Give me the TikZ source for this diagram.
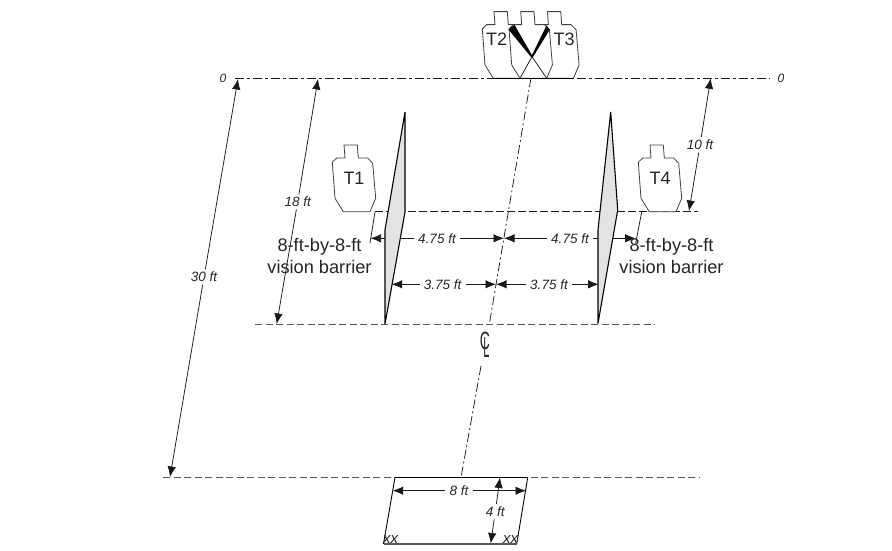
\documentclass[tikz,border=0pt]{standalone}
\usepackage{fontspec}
\setmainfont{Liberation Sans}
\usetikzlibrary{arrows.meta}
\tikzset{
  ln/.style={line width=0.75pt,draw=black!90},
  axisline/.style={ln,dash pattern=on 9pt off 3pt on 3pt off 3pt},
  seatline/.style={ln,dash pattern=on 8pt off 3pt},
  lowline/.style={ln,draw=black!65,dash pattern=on 7pt off 3.5pt},
  centerline/.style={ln,dash pattern=on 9pt off 3pt on 2pt off 3pt},
  dimarrow/.style={ln,-{Latex[length=10.5pt,width=8.5pt]}},
  dimlabel/.style={font=\fontsize{13.5}{15}\selectfont\itshape,inner xsep=4pt,inner ysep=2.5pt,text=black!85},
  zerolabel/.style={font=\fontsize{12}{13}\selectfont\itshape,inner sep=1pt,text=black!85},
  biglabel/.style={font=\fontsize{18.2}{22}\selectfont,inner sep=0pt,text=black!85,align=center},
  tlabel/.style={font=\fontsize{18}{20}\selectfont,inner sep=0pt,text=black!85},
  cllabel/.style={font=\fontsize{20}{20}\selectfont,inner sep=0pt,text=black!85},
  xxlabel/.style={font=\fontsize{15}{15}\selectfont\itshape,inner sep=0pt,text=black!85},
  barrier/.style={draw=black,line width=1.1pt,fill=black!11,line join=miter},
  targetshape/.style={draw=black!75,line width=0.8pt,fill=white,line join=round},
  target/.pic={
    \path[targetshape] (0.7,-66.7) -- (14,-66.7) -- (15,-53.7) -- (24.4,-53.7) -- (29.4,-48.4)
      -- (32.4,-13.4) -- (26.7,0) -- (0,0) -- (-8.3,-13.4) -- (-11,-49.4) -- (-6.6,-53.7)
      -- (1.7,-53.7) -- cycle;
  }
}
\begin{document}
\begin{tikzpicture}[x=1pt,y=-1pt]
\useasboundingbox[fill=white] (0,0) rectangle (892,550);

% horizontal reference lines
\coordinate (ztl) at (235,78);
\coordinate (ztr) at (770,78);
\coordinate (stl) at (375,211.5);
\coordinate (str) at (698,211.5);
\coordinate (ltl) at (255,324);
\coordinate (ltr) at (655,324);
\coordinate (btl) at (163,477.5);
\coordinate (btr) at (700,477.5);
\draw[axisline] (ztl) -- (ztr);
\draw[seatline] (stl) -- (str);
\draw[lowline] (ltl) -- (ltr);
\draw[lowline] (btl) -- (btr);

% targets
\pic at (493.3,78.3) {target};
\pic at (546.7,78.3) {target};
\pic at (520,78.3) {target};
\draw[ln,line width=0.9pt,draw=black] (493.5,78.3) -- (573,78.3);
\fill[black] (508.5,29.5) -- (514.5,24.8) -- (533,57) -- (531,57) -- cycle;
\fill[black] (546.5,25.5) -- (549.8,29.5) -- (533,57) -- (531,57) -- cycle;
\draw[ln] (532,56.7) -- (546.7,78.3);
\draw[ln] (532,56.7) -- (520,78.3);
\pic at (343.3,211.7) {target};
\pic at (649.3,211.7) {target};
\node[tlabel] (t2) at (496.5,39.5) {T2};
\node[tlabel] (t3) at (564,39.5) {T3};
\node[tlabel] (t1) at (354,178) {T1};
\node[tlabel] (t4) at (660,178) {T4};

% centre line
\coordinate (c0) at (531,78);
\coordinate (c1) at (489.5,323);
\coordinate (c2) at (481,366);
\coordinate (c3) at (461,477.5);
\draw[centerline] (c0) -- (c1);
\draw[centerline] (c2) -- (c3);
\node[cllabel] (clc) at (485,341) {\scalebox{0.7}[1.25]{C}};
\node[cllabel] (cll) at (486.5,348) {\scalebox{0.55}[1.45]{L}};

% barriers
\draw[barrier] (405,112) -- (405,212) -- (385,324) -- (385,230) -- cycle;
\draw[barrier] (610.7,112) -- (617.7,210) -- (598,323.5) -- (598,230) -- cycle;

% leaders
\coordinate (la) at (375,212);
\coordinate (lb) at (370,243);
\coordinate (ra) at (641.7,212);
\coordinate (rb) at (635.7,243);
\draw[ln] (la) -- (lb);
\draw[ln] (ra) -- (rb);

% 4.75 dimensions
\coordinate (a1) at (370.5,238.3);
\coordinate (a1b) at (385,238.3);
\coordinate (a2) at (400,238.3);
\coordinate (a3) at (504,238.3);
\coordinate (a4) at (613,238.3);
\coordinate (a5) at (635.7,238.3);
\coordinate (a6) at (598,238.3);
\node[dimlabel] (d1) at (437,238.3) {4.75 ft};
\node[dimlabel] (d2) at (570,238.3) {4.75 ft};
\draw[dimarrow] (a1b) -- (a1);
\draw[ln] (a2) -- (d1);
\draw[dimarrow] (d1) -- (a3);
\draw[dimarrow] (d2) -- (a3);
\draw[ln] (d2) -- (a6);
\draw[dimarrow] (a4) -- (a5);

% 3.75 dimensions
\coordinate (b1) at (391.7,284.3);
\coordinate (b2) at (496,284.3);
\coordinate (b3) at (598.7,284.3);
\node[dimlabel] (d3) at (442.7,284.3) {3.75 ft};
\node[dimlabel] (d4) at (549,284.3) {3.75 ft};
\draw[dimarrow] (d3) -- (b1);
\draw[dimarrow] (d3) -- (b2);
\draw[dimarrow] (d4) -- (b2);
\draw[dimarrow] (d4) -- (b3);

% long dimensions
\coordinate (e1) at (238,79);
\coordinate (e2) at (170,477);
\node[dimlabel] (d30) at (204,277) {30 ft};
\draw[dimarrow] (d30) -- (e1);
\draw[dimarrow] (d30) -- (e2);
\coordinate (f1) at (318,79);
\coordinate (f2) at (276.7,324);
\node[dimlabel] (d18) at (297.7,201.7) {18 ft};
\draw[dimarrow] (d18) -- (f1);
\draw[dimarrow] (d18) -- (f2);
\coordinate (g1) at (710.7,78.3);
\coordinate (g2) at (689,211);
\node[dimlabel] (d10) at (700,145) {10 ft};
\draw[dimarrow] (d10) -- (g1);
\draw[dimarrow] (d10) -- (g2);

% zero labels
\node[zerolabel] (z1) at (223,78) {0};
\node[zerolabel] (z2) at (781,78) {0};

% barrier labels
\node[biglabel] (vb1) at (319.5,256) {8-ft-by-8-ft\\vision barrier};
\node[biglabel] (vb2) at (671.5,256) {8-ft-by-8-ft\\vision barrier};

% box
\coordinate (p1) at (395,477.5);
\coordinate (p2) at (527.7,477.5);
\coordinate (p3) at (516.7,544);
\coordinate (p4) at (383.5,544);
\draw[ln,line width=0.9pt,draw=black] (p4) -- (p1) -- (p2) -- (p3);
\draw[ln,line width=1.2pt,draw=black!65] (p4) -- (p3);
\coordinate (h1) at (392.7,490.7);
\coordinate (h2) at (526,490.7);
\node[dimlabel] (d8) at (459,490.7) {8 ft};
\draw[dimarrow] (d8) -- (h1);
\draw[dimarrow] (d8) -- (h2);
\coordinate (i1) at (500,477.5);
\coordinate (i2) at (490.7,543.5);
\node[dimlabel] (d4f) at (495.3,511.7) {4 ft};
\draw[dimarrow] (d4f) -- (i1);
\draw[dimarrow] (d4f) -- (i2);
\node[xxlabel] (x1) at (390.7,539.5) {xx};
\node[xxlabel] (x2) at (510.7,539.5) {xx};
\end{tikzpicture}
\end{document}
